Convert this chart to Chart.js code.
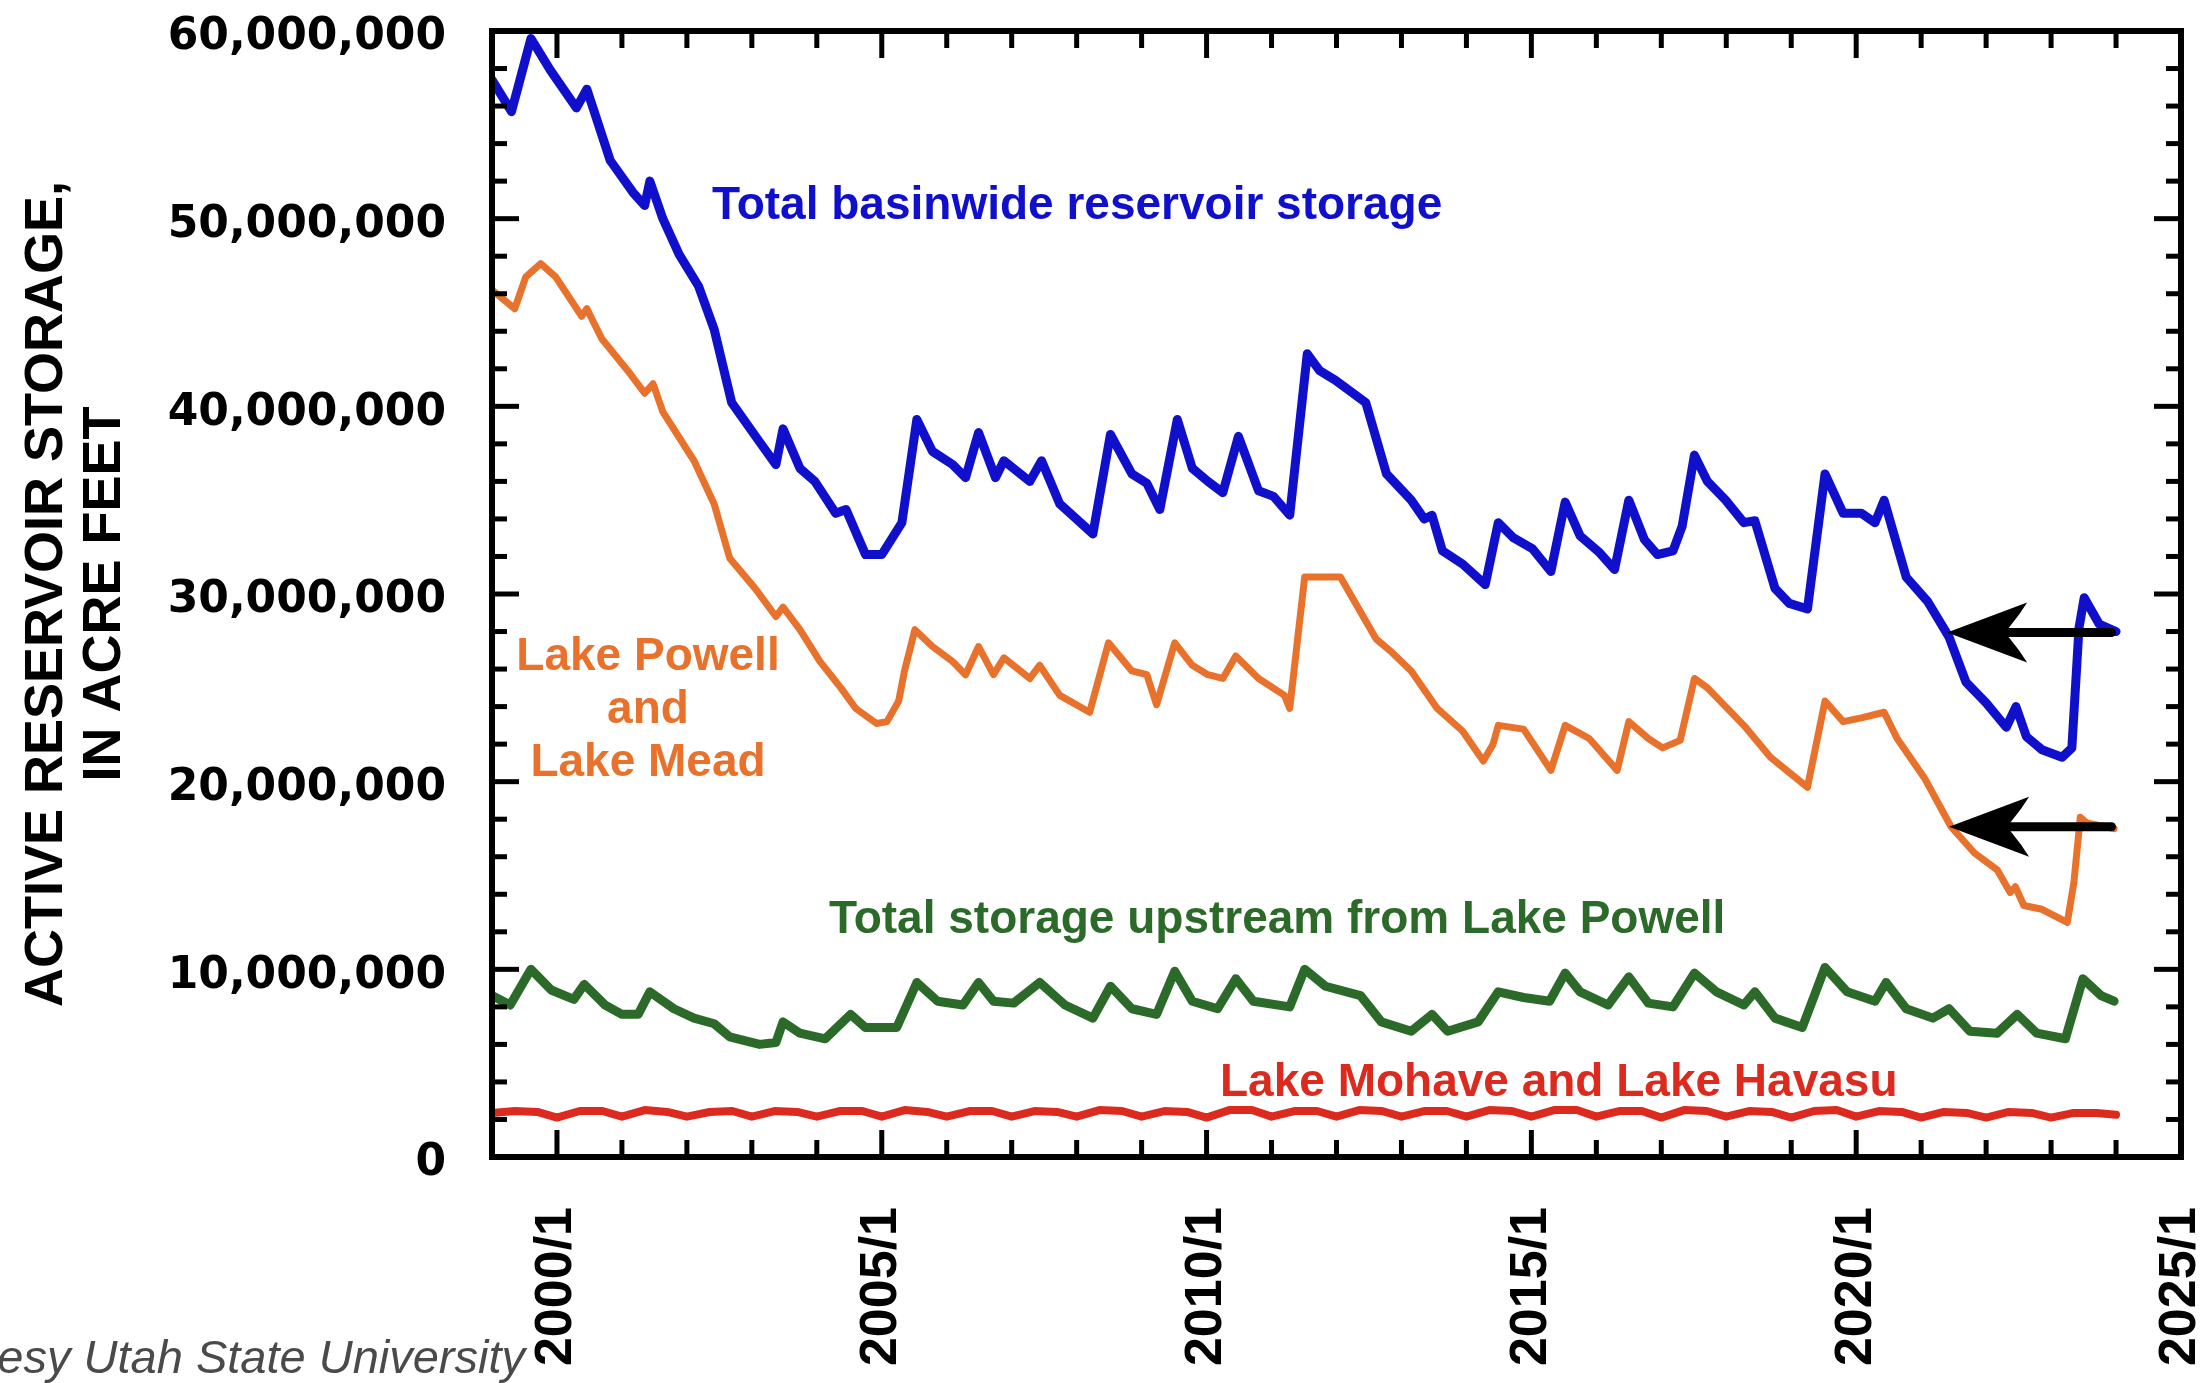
<!DOCTYPE html>
<html><head><meta charset="utf-8">
<script src="https://cdn.jsdelivr.net/npm/chart.js@4.4.1/dist/chart.umd.min.js"></script>
<style>html,body{margin:0;padding:0;background:#fff;overflow:hidden}#wrap{width:2210px;height:1383px}</style>
</head><body><div id="wrap"><canvas id="c" width="2210" height="1383"></canvas></div>
<script>
// ---- data (decimal years, millions of acre-feet) ----
const blueX = [1999.00,1999.30,1999.60,1999.90,2000.30,2000.46,2000.82,2001.17,2001.35,2001.43,2001.63,2001.88,2002.18,2002.42,2002.69,2003.12,2003.37,2003.48,2003.74,2003.97,2004.29,2004.45,2004.75,2005.00,2005.31,2005.54,2005.78,2006.09,2006.29,2006.49,2006.75,2006.88,2007.28,2007.46,2007.74,2008.25,2008.52,2008.85,2009.08,2009.28,2009.55,2009.78,2010.02,2010.25,2010.49,2010.80,2011.03,2011.28,2011.55,2011.74,2011.98,2012.45,2012.77,2013.15,2013.35,2013.47,2013.63,2013.94,2014.29,2014.49,2014.72,2015.02,2015.30,2015.52,2015.75,2016.05,2016.28,2016.50,2016.74,2016.94,2017.18,2017.32,2017.51,2017.71,2017.99,2018.27,2018.44,2018.75,2018.97,2019.25,2019.52,2019.80,2020.08,2020.29,2020.43,2020.77,2021.10,2021.43,2021.69,2022.00,2022.31,2022.46,2022.62,2022.86,2023.17,2023.32,2023.43,2023.51,2023.74,2024.00];
const blueY = [57.4,55.7,59.6,57.9,55.9,56.9,53.1,51.4,50.7,52.0,50.0,48.1,46.4,44.1,40.2,38.1,36.9,38.8,36.7,36.0,34.3,34.5,32.1,32.1,33.8,39.3,37.6,36.9,36.2,38.6,36.2,37.1,36.0,37.1,34.8,33.2,38.5,36.4,35.9,34.5,39.3,36.7,36.0,35.4,38.4,35.5,35.2,34.2,42.8,41.9,41.4,40.2,36.4,35.0,34.0,34.2,32.3,31.6,30.5,33.8,33.0,32.4,31.2,34.9,33.1,32.2,31.3,35.0,32.9,32.1,32.3,33.6,37.4,36.0,35.0,33.8,33.9,30.3,29.5,29.2,36.4,34.3,34.3,33.8,35.0,30.9,29.6,27.7,25.3,24.2,22.9,24.0,22.4,21.7,21.3,21.8,28.2,29.8,28.4,28.0];

const orangeX = [1999.00,1999.35,1999.52,1999.75,1999.98,2000.38,2000.46,2000.69,2001.09,2001.35,2001.48,2001.63,2002.11,2002.42,2002.66,2003.05,2003.37,2003.48,2003.74,2004.05,2004.37,2004.60,2004.92,2005.08,2005.26,2005.35,2005.51,2005.78,2006.09,2006.29,2006.49,2006.72,2006.88,2007.28,2007.43,2007.74,2008.20,2008.49,2008.85,2009.08,2009.23,2009.51,2009.78,2010.02,2010.25,2010.45,2010.80,2011.20,2011.28,2011.51,2011.90,2012.06,2012.61,2012.85,2013.15,2013.47,2013.55,2013.94,2014.26,2014.41,2014.49,2014.88,2015.30,2015.52,2015.89,2016.32,2016.50,2016.80,2017.02,2017.29,2017.51,2017.71,2017.99,2018.27,2018.68,2019.25,2019.52,2019.80,2020.08,2020.43,2020.63,2021.05,2021.46,2021.82,2022.17,2022.37,2022.45,2022.58,2022.86,2023.25,2023.35,2023.45,2023.55,2023.97];
const orangeY = [46.2,45.2,46.9,47.6,46.9,44.8,45.2,43.6,41.9,40.7,41.2,39.7,37.1,34.8,31.9,30.3,28.8,29.3,28.1,26.4,25.0,23.9,23.1,23.2,24.3,25.9,28.1,27.2,26.4,25.7,27.2,25.7,26.6,25.5,26.2,24.6,23.7,27.4,25.9,25.7,24.1,27.4,26.2,25.7,25.5,26.7,25.5,24.6,23.9,30.9,30.9,30.9,27.6,26.9,25.9,24.3,23.9,22.7,21.1,22.0,23.0,22.8,20.6,23.0,22.3,20.6,23.2,22.3,21.8,22.2,25.5,25.0,24.0,23.0,21.3,19.7,24.3,23.2,23.4,23.7,22.3,20.2,17.6,16.2,15.3,14.1,14.4,13.4,13.2,12.5,14.6,18.1,17.8,17.5];

const greenX = [1999.00,1999.28,1999.60,1999.91,2000.26,2000.42,2000.74,2001.00,2001.25,2001.43,2001.80,2002.11,2002.42,2002.66,2003.12,2003.37,2003.48,2003.74,2004.13,2004.52,2004.75,2005.23,2005.54,2005.86,2006.25,2006.49,2006.72,2007.03,2007.43,2007.82,2008.25,2008.52,2008.85,2009.23,2009.51,2009.78,2010.17,2010.45,2010.72,2011.28,2011.51,2011.83,2012.37,2012.69,2013.15,2013.47,2013.71,2014.18,2014.49,2014.88,2015.28,2015.52,2015.75,2016.18,2016.50,2016.80,2017.18,2017.51,2017.85,2018.27,2018.44,2018.75,2019.17,2019.52,2019.86,2020.29,2020.46,2020.77,2021.18,2021.43,2021.75,2022.17,2022.48,2022.78,2023.22,2023.49,2023.77,2023.97];
const greenY = [8.6,8.1,10.0,8.9,8.4,9.2,8.1,7.6,7.6,8.8,7.9,7.4,7.1,6.4,6.0,6.1,7.2,6.6,6.3,7.6,6.9,6.9,9.3,8.3,8.1,9.3,8.3,8.2,9.3,8.1,7.4,9.1,7.9,7.6,9.9,8.3,7.9,9.5,8.3,8.0,10.0,9.1,8.6,7.2,6.7,7.6,6.7,7.2,8.8,8.5,8.3,9.8,8.8,8.1,9.6,8.2,8.0,9.8,8.8,8.1,8.8,7.4,6.9,10.1,8.8,8.3,9.3,7.9,7.4,7.9,6.7,6.6,7.6,6.6,6.3,9.5,8.6,8.3];

const redX = [1999.00,1999.35,1999.70,2000.00,2000.35,2000.70,2001.00,2001.35,2001.70,2002.00,2002.35,2002.70,2003.00,2003.35,2003.70,2004.00,2004.35,2004.70,2005.00,2005.35,2005.70,2006.00,2006.35,2006.70,2007.00,2007.35,2007.70,2008.00,2008.35,2008.70,2009.00,2009.35,2009.70,2010.00,2010.35,2010.70,2011.00,2011.35,2011.70,2012.00,2012.35,2012.70,2013.00,2013.35,2013.70,2014.00,2014.35,2014.70,2015.00,2015.35,2015.70,2016.00,2016.35,2016.70,2017.00,2017.35,2017.70,2018.00,2018.35,2018.70,2019.00,2019.35,2019.70,2020.00,2020.35,2020.70,2021.00,2021.35,2021.70,2022.00,2022.35,2022.70,2023.00,2023.35,2023.70,2024.00];
const redY = [2.35,2.45,2.40,2.10,2.45,2.45,2.15,2.50,2.40,2.15,2.40,2.45,2.15,2.45,2.40,2.15,2.45,2.45,2.15,2.50,2.40,2.15,2.45,2.45,2.15,2.45,2.40,2.15,2.50,2.45,2.15,2.45,2.40,2.10,2.50,2.50,2.15,2.45,2.45,2.15,2.50,2.45,2.15,2.45,2.45,2.15,2.50,2.45,2.15,2.50,2.50,2.15,2.45,2.45,2.10,2.50,2.45,2.15,2.45,2.40,2.10,2.45,2.50,2.15,2.45,2.40,2.10,2.40,2.35,2.10,2.40,2.35,2.10,2.35,2.35,2.25];

const yTickValues = [0,10,20,30,40,50,60];
const yTickLabels = ['0','10,000,000','20,000,000','30,000,000','40,000,000','50,000,000','60,000,000'];
const xTickValues = [2000,2005,2010,2015,2020,2025];
const xTickLabels = ['2000/1','2005/1','2010/1','2015/1','2020/1','2025/1'];
const arrowFrom = [2023.93, 2023.93];
const arrowTo = [2021.40, 2021.43];
const arrowLevel = [27.95, 17.6];

// ---- fonts ----
function hasFont(name){
  const c=document.createElement('canvas').getContext('2d');
  const t='2000/1 ACTIVE RESERVOIR';
  c.font='bold 40px monospace'; const a=c.measureText(t).width;
  c.font='bold 40px "'+name+'", monospace'; const b=c.measureText(t).width;
  return Math.abs(a-b)>0.5;
}
const narrow = hasFont('Liberation Sans Narrow');
const xFont = narrow ? {family:'"Liberation Sans Narrow"',size:62,weight:'bold'} : {family:'"Liberation Sans", Arial',size:52,weight:'bold'};
const titleFont = narrow ? {family:'"Liberation Sans Narrow"',size:67,weight:'bold',lineHeight:'58px'} : {family:'"Liberation Sans", Arial',size:54,weight:'bold',lineHeight:'58px'};

const BLUE='#1010cc', ORANGE='#e8722c', GREEN='#2c6a2a', RED='#dc2a1e';
function pts(xs,ys){return xs.map((x,i)=>({x:x,y:ys[i]}));}
function noPad(s){s.paddingTop=0;s.paddingBottom=0;s.paddingLeft=0;s.paddingRight=0;}

const deco = {
  id:'deco',
  afterDatasetsDraw(chart){
    const ctx=chart.ctx, a=chart.chartArea, xs=chart.scales.x, ys=chart.scales.y;
    ctx.save();
    // arrows
    ctx.fillStyle='#000'; ctx.strokeStyle='#000';
    for(let i=0;i<arrowFrom.length;i++){
      const x0=xs.getPixelForValue(arrowFrom[i]), x1=xs.getPixelForValue(arrowTo[i]), y=ys.getPixelForValue(arrowLevel[i]);
      ctx.lineWidth=9; ctx.lineCap='round';
      ctx.beginPath(); ctx.moveTo(x0,y); ctx.lineTo(x1+50,y); ctx.stroke();
      ctx.beginPath(); ctx.moveTo(x1,y); ctx.lineTo(x1+80,y-30); ctx.lineTo(x1+72,y-18); ctx.lineTo(x1+58,y); ctx.lineTo(x1+72,y+18); ctx.lineTo(x1+80,y+30); ctx.closePath(); ctx.fill();
    }
    // ticks
    ctx.lineCap='butt'; ctx.lineWidth=5;
    const ln=(x1,y1,x2,y2)=>{ctx.beginPath();ctx.moveTo(x1,y1);ctx.lineTo(x2,y2);ctx.stroke();};
    for(let yr=2000; yr<2025; yr++){
      const px=xs.getPixelForValue(yr), L=(yr%5===0)?27:17;
      ln(px,a.bottom,px,a.bottom-L); ln(px,a.top,px,a.top+L);
    }
    for(let v=2; v<60; v+=2){
      const py=ys.getPixelForValue(v), L=(v%10===0)?27:15;
      ln(a.left,py,a.left+L,py); ln(a.right,py,a.right-L,py);
    }
    ctx.lineWidth=6; ctx.strokeRect(a.left,a.top,a.right-a.left,a.bottom-a.top);
    // annotations
    ctx.font='bold 46px "Liberation Sans", Arial, sans-serif'; ctx.textBaseline='alphabetic';
    ctx.fillStyle=BLUE; ctx.textAlign='left'; ctx.fillText('Total basinwide reservoir storage',712,219);
    ctx.fillStyle=ORANGE; ctx.textAlign='center';
    ctx.fillText('Lake Powell',648,670); ctx.fillText('and',648,723); ctx.fillText('Lake Mead',648,776);
    ctx.fillStyle=GREEN; ctx.textAlign='left'; ctx.fillText('Total storage upstream from Lake Powell',829,933);
    ctx.fillStyle=RED; ctx.fillText('Lake Mohave and Lake Havasu',1220,1096);
    ctx.font='italic 47px "Liberation Sans", Arial, sans-serif'; ctx.fillStyle='#4a4a4a'; ctx.textAlign='right';
    ctx.fillText('Courtesy Utah State University',525,1373);
    ctx.restore();
  }
};

new Chart(document.getElementById('c'),{
  type:'line',
  data:{datasets:[
    {label:'Total basinwide reservoir storage',data:pts(blueX,blueY),borderColor:BLUE,borderWidth:9},
    {label:'Lake Powell and Lake Mead',data:pts(orangeX,orangeY),borderColor:ORANGE,borderWidth:7},
    {label:'Total storage upstream from Lake Powell',data:pts(greenX,greenY),borderColor:GREEN,borderWidth:9},
    {label:'Lake Mohave and Lake Havasu',data:pts(redX,redY),borderColor:RED,borderWidth:8}
  ]},
  options:{
    responsive:false, devicePixelRatio:1, animation:false,
    layout:{padding:{top:31,right:29,left:0,bottom:0}},
    elements:{point:{radius:0},line:{tension:0,borderJoinStyle:'round',borderCapStyle:'round',fill:false}},
    plugins:{legend:{display:false},tooltip:{enabled:false}},
    scales:{
      x:{type:'linear',min:1999,max:2025,
        grid:{display:false,drawTicks:false},border:{display:false},
        ticks:{autoSkip:false,minRotation:90,maxRotation:90,padding:50,color:'#000',font:xFont,
          callback:(v)=>{const i=xTickValues.indexOf(v);return i>=0?xTickLabels[i]:'';}},
        afterBuildTicks:(s)=>{s.ticks=xTickValues.map(v=>({value:v}));},
        afterFit:(s)=>{s.height=226;noPad(s);}
      },
      y:{type:'linear',min:0,max:60,
        grid:{display:false,drawTicks:false},border:{display:false},
        ticks:{padding:46,labelOffset:7,color:'#000',font:{family:'"DejaVu Sans"',size:44,weight:'bold'},
          callback:(v)=>{const i=yTickValues.indexOf(v);return i>=0?yTickLabels[i]:'';}},
        afterBuildTicks:(s)=>{s.ticks=yTickValues.map(v=>({value:v}));},
        afterFit:(s)=>{s.width=492;noPad(s);},
        title:{display:true,text:['ACTIVE RESERVOIR STORAGE,','IN ACRE FEET'],color:'#000',font:titleFont,padding:{top:18,bottom:0}}
      }
    }
  },
  plugins:[deco]
});
</script></body></html>
